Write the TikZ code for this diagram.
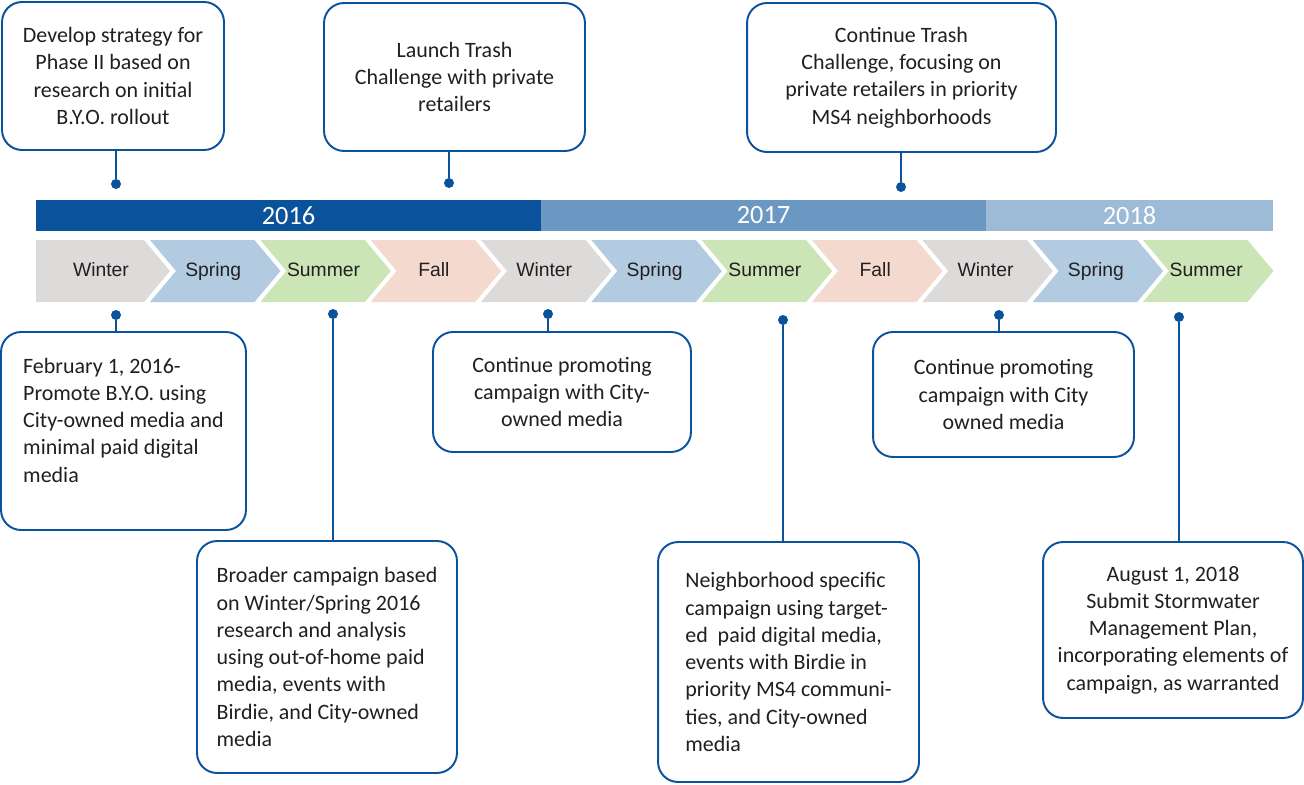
\documentclass[tikz,border=0pt]{standalone}
\usepackage{fontspec}
\setmainfont{Carlito}
\newfontfamily\seasonfont{Liberation Sans}
\usetikzlibrary{positioning}

\definecolor{tlblue}{HTML}{0A529C}
\definecolor{tlmid}{HTML}{6B98C3}
\definecolor{tllight}{HTML}{9DBAD7}
\definecolor{tltext}{HTML}{231F20}
\definecolor{winter}{HTML}{DCDBDA}
\definecolor{spring}{HTML}{B3CBE1}
\definecolor{summer}{HTML}{CBE5B6}
\definecolor{fall}{HTML}{F4D9CE}

\begin{document}
\begin{tikzpicture}[x=0.02cm,y=-0.02cm,
 box/.style={draw=tlblue,line width=1.1pt,rounded corners=0.4cm,fill=white,
  text=tltext,align=center,font=\fontsize{12.5}{15.5}\selectfont,inner sep=0pt},
 leftbox/.style={box,align=left},
 dot/.style={circle,fill=tlblue,inner sep=0pt,minimum size=0.2cm},
 link/.style={draw=tlblue,line width=1.1pt},
 year/.style={minimum height=0.62cm,inner sep=0pt,text=white,
  font=\fontsize{15}{18}\selectfont},
 season/.style={text=tltext,text height=8pt,text depth=2.4pt,
  font=\seasonfont\fontsize{11}{13}\selectfont}]
 \useasboundingbox (0,0) rectangle (1304,784);

 \node[year,fill=tlblue,minimum width=10.10cm]  (y2016) at (288.5,215.5) {2016};
 \node[year,fill=tlmid,minimum width=8.90cm]    (y2017) at (763.5,215.5) {2017};
 \node[year,fill=tllight,minimum width=5.74cm]  (y2018) at (1129.5,215.5) {2018};

 \foreach \s/\c [count=\i] in {Winter/winter,Spring/spring,Summer/summer,Fall/fall,
   Winter/winter,Spring/spring,Summer/summer,Fall/fall,Winter/winter,Spring/spring,
   Summer/summer}{
  \pgfmathsetmacro\l{ifthenelse(\i==1,36,150+(\i-2)*110.33)}
  \pgfmathsetmacro\r{ifthenelse(\i==1,144,\l+104.5)}
  \pgfmathsetmacro\n{ifthenelse(\i==1,0,26)}
  \fill[\c] (\l,240) -- (\r,240) -- (\r+26,271) -- (\r,302) -- (\l,302)
   -- (\l+\n,271) -- cycle;
  \node[season] (s\i) at ({(\l+\r+26)/2-2},272) {\s};
 }

 \node[box,minimum width=4.44cm,minimum height=2.96cm] (strategy) at (113,76)
  {Develop strategy for\\Phase II based on\\research on initial\\B.Y.O. rollout};
 \node[box,minimum width=5.22cm,minimum height=2.96cm] (launch) at (454.5,77)
  {Launch Trash\\Challenge with private\\retailers};
 \node[box,minimum width=6.18cm,minimum height=2.98cm] (trash) at (901.5,77.5)
  {Continue Trash\\Challenge, focusing on\\private retailers in priority\\MS4 neighborhoods};

 \node[leftbox,minimum width=4.90cm,minimum height=3.96cm] (promote) at (123.5,431)
  {February 1, 2016-\\Promote B.Y.O. using\\City-owned media and\\minimal paid digital\\media\\[-3pt]~};
 \node[leftbox,minimum width=5.20cm,minimum height=4.64cm] (broader) at (327,657)
  {Broader campaign based\\on Winter/Spring 2016\\research and analysis\\using out-of-home paid\\media, events with\\Birdie, and City-owned\\media};
 \node[box,minimum width=5.16cm,minimum height=2.40cm] (cont1) at (562,392)
  {Continue promoting\\campaign with City-\\owned media};
 \node[leftbox,minimum width=5.22cm,minimum height=4.80cm] (hood) at (788.5,662)
  {Neighborhood specific\\campaign using target-\\ed~~paid digital media,\\events with Birdie in\\priority MS4 communi-\\ties, and City-owned\\media};
 \node[box,minimum width=5.22cm,minimum height=2.50cm] (cont2) at (1003.5,394.5)
  {Continue promoting\\campaign with City\\owned media};
 \node[box,minimum width=5.20cm,minimum height=3.52cm] (plan) at (1173,630)
  {August 1, 2018\\Submit Stormwater\\Management Plan,\\incorporating elements of\\campaign, as warranted};

 \node[dot] (d1) at (116,184) {};
 \node[dot] (d2) at (449,183) {};
 \node[dot] (d3) at (901,187) {};
 \node[dot] (d4) at (116,315) {};
 \node[dot] (d5) at (333,314) {};
 \node[dot] (d6) at (548,314) {};
 \node[dot] (d7) at (783,320) {};
 \node[dot] (d8) at (999,315) {};
 \node[dot] (d9) at (1179,317) {};

 \draw[link] (strategy.south -| d1) -- (d1);
 \draw[link] (launch.south -| d2) -- (d2);
 \draw[link] (trash.south -| d3) -- (d3);
 \draw[link] (d4) -- (d4 |- promote.north);
 \draw[link] (d5) -- (d5 |- broader.north);
 \draw[link] (d6) -- (d6 |- cont1.north);
 \draw[link] (d7) -- (d7 |- hood.north);
 \draw[link] (d8) -- (d8 |- cont2.north);
 \draw[link] (d9) -- (d9 |- plan.north);
\end{tikzpicture}
\end{document}
